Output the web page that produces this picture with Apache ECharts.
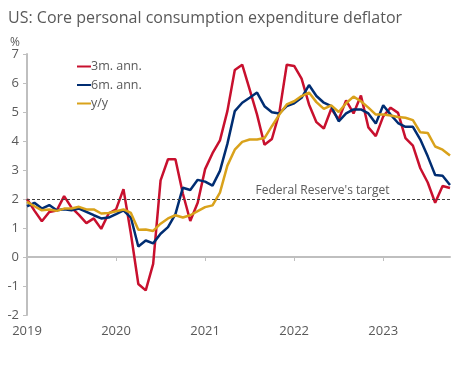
<!DOCTYPE html>
<html>
<head>
<meta charset="utf-8">
<script src="https://cdn.jsdelivr.net/npm/echarts@6/dist/echarts.min.js"></script>
<style>
html,body{margin:0;padding:0;background:#fff;}
#chart{width:468px;height:367px;}
</style>
</head>
<body>
<div id="chart"></div>
<script>
// Tick labels for years
var yearLabels = ['2019', '2020', '2021', '2022', '2023'];
// Monthly categories Jan 2019 .. Oct 2023
var months = [];
for (var yi = 0; yi < yearLabels.length; yi++) {
  for (var m = 1; m <= 12; m++) {
    if (yi === 4 && m > 10) break;
    months.push(yearLabels[yi] + '-' + (m < 10 ? '0' + m : m));
  }
}
var seriesNames = ['3m. ann.', '6m. ann.', 'y/y'];
var threeMonth = [2.0, 1.6, 1.23, 1.55, 1.6, 2.1, 1.7, 1.45, 1.17, 1.33, 0.97, 1.5, 1.64, 2.34, 0.8, -0.93, -1.15, -0.24, 2.64, 3.37, 3.37, 2.19, 1.24, 1.87,
  3.03, 3.58, 4.02, 5.03, 6.45, 6.63, 5.78, 4.91, 3.87, 4.07, 4.97, 6.63, 6.59, 6.15, 5.26, 4.65, 4.43, 5.11, 4.74, 5.4, 4.95, 5.57, 4.47, 4.17,
  4.85, 5.15, 4.97, 4.1, 3.84, 3.06, 2.57, 1.87, 2.45, 2.38];
var sixMonth = [1.75, 1.87, 1.67, 1.79, 1.61, 1.65, 1.61, 1.67, 1.56, 1.44, 1.33, 1.36, 1.48, 1.61, 1.36, 0.36, 0.57, 0.47, 0.8, 1.03, 1.48, 2.39, 2.31, 2.66,
  2.6, 2.46, 2.97, 3.9, 5.03, 5.32, 5.49, 5.67, 5.2, 4.99, 4.95, 5.2, 5.3, 5.49, 5.93, 5.55, 5.32, 5.2, 4.68, 4.95, 5.09, 5.09, 4.95, 4.6,
  5.23, 4.91, 4.62, 4.49, 4.49, 4.05, 3.47, 2.83, 2.8, 2.48];
var yoy = [1.9, 1.75, 1.61, 1.64, 1.59, 1.67, 1.67, 1.73, 1.64, 1.64, 1.5, 1.52, 1.58, 1.64, 1.52, 0.94, 0.95, 0.9, 1.15, 1.33, 1.44, 1.36, 1.44, 1.58,
  1.72, 1.78, 2.22, 3.15, 3.7, 3.97, 4.05, 4.05, 4.1, 4.51, 4.91, 5.26, 5.37, 5.55, 5.67, 5.34, 5.11, 5.23, 5.0, 5.3, 5.53, 5.37, 5.15, 4.91,
  4.91, 4.88, 4.83, 4.8, 4.72, 4.3, 4.28, 3.81, 3.7, 3.5];
var targetValue = 2;
var targetLabel = "Federal Reserve's target";
var colors = ['#C8102E', '#002D72', '#D9A21B'];

var chart = echarts.init(document.getElementById('chart'), null, {renderer: 'canvas'});
var font = '"Open Sans", "Noto Sans", sans-serif';
var textColor = '#595959';

function makeSeries(name, data, color) {
  return {
    name: name,
    type: 'line',
    data: data,
    symbol: 'none',
    lineStyle: {color: color, width: 2.5},
    itemStyle: {color: color},
    z: 3
  };
}

var option = {
  animation: false,
  textStyle: {fontFamily: font},
  title: [
    {text: 'US: Core personal consumption expenditure deflator', left: 3, top: 5,
     textStyle: {fontFamily: font, fontSize: 16, fontWeight: 'normal', color: textColor}},
    {text: '%', left: 5, top: 32, textStyle: {fontFamily: font, fontSize: 12, fontWeight: 'normal', color: textColor}}
  ],
  legend: {
    left: 72, top: 55, orient: 'vertical', itemGap: 5.5, itemWidth: 14, itemHeight: 14,
    icon: 'path://M0,6 L14,6 L14,8 L0,8 Z',
    textStyle: {fontFamily: font, fontSize: 12.5, color: textColor, padding: [0, 0, 0, -5]},
    data: seriesNames
  },
  grid: {left: 27, right: 18, top: 54, bottom: 52, containLabel: false},
  xAxis: {
    type: 'category',
    data: months,
    boundaryGap: false,
    axisLine: {lineStyle: {color: '#bfbfbf', width: 2}},
    axisTick: {show: true, interval: 11, length: 4, lineStyle: {color: '#bfbfbf', width: 1}},
    axisLabel: {interval: 11, color: textColor, fontSize: 13, fontFamily: font, margin: 10,
      formatter: function (v) { return v.slice(0, 4); }},
    splitLine: {show: false}
  },
  yAxis: {
    type: 'value', min: -2, max: 7, interval: 1,
    axisLine: {show: true, lineStyle: {color: '#bfbfbf', width: 2}},
    axisTick: {show: true, length: 4, lineStyle: {color: '#bfbfbf'}},
    axisLabel: {color: textColor, fontSize: 13, fontFamily: font, margin: 8},
    splitLine: {show: false}
  },
  series: [
    makeSeries(seriesNames[0], threeMonth, colors[0]),
    makeSeries(seriesNames[1], sixMonth, colors[1]),
    makeSeries(seriesNames[2], yoy, colors[2]),
    {
      name: 'target', type: 'line', data: [], silent: true,
      markLine: {
        silent: true, symbol: 'none',
        lineStyle: {color: '#404040', type: [3, 2], width: 1},
        label: {show: true, position: 'insideMiddleTop', formatter: targetLabel,
          color: textColor, fontSize: 12, fontFamily: font, offset: [84, 0], distance: 2},
        data: [{yAxis: targetValue}]
      },
      z: 2
    }
  ]
};
chart.setOption(option);
</script>
</body>
</html>
